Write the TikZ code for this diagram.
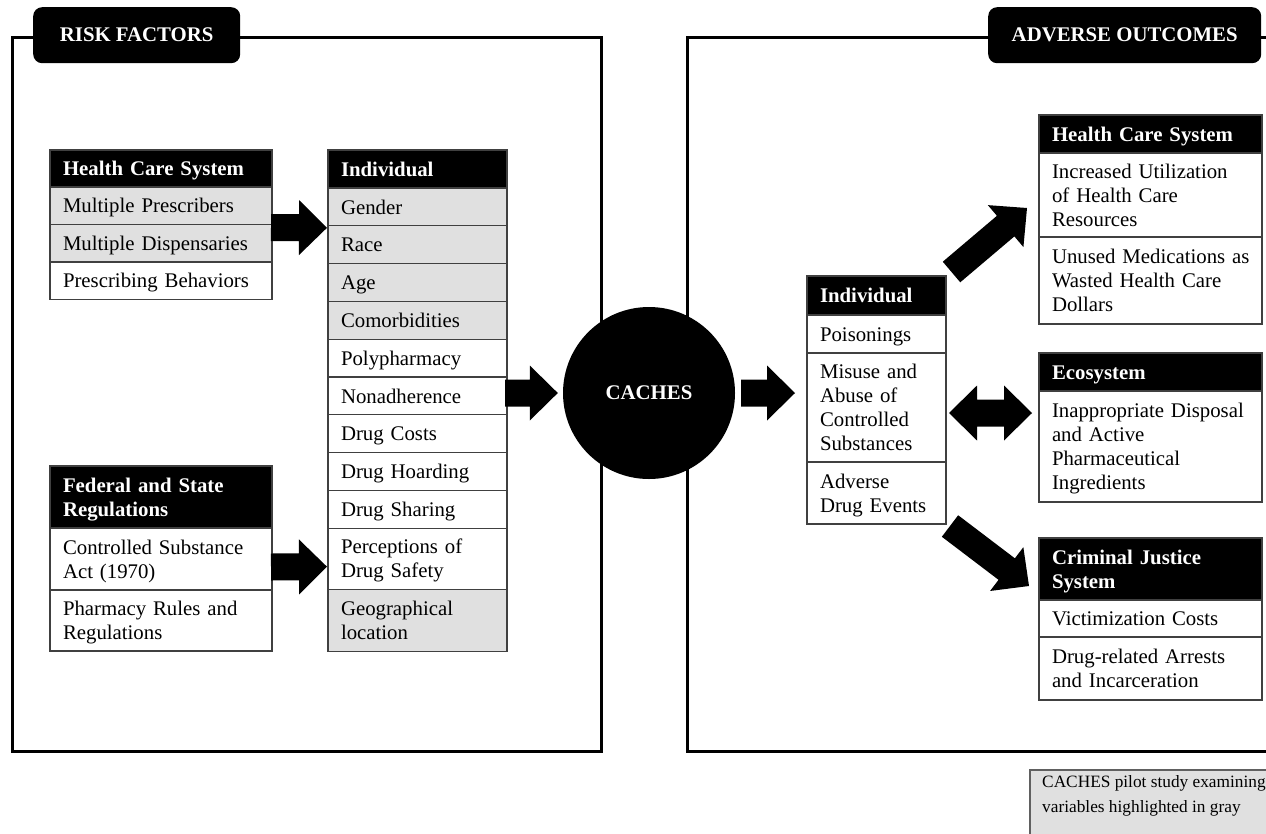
\documentclass[tikz,border=0pt]{standalone}
\usepackage{fontspec}
\setmainfont{Liberation Serif}
\usetikzlibrary{calc}
\definecolor{cellgray}{HTML}{E0E0E0}
\definecolor{linegray}{HTML}{404040}
\definecolor{legendline}{HTML}{606060}
\newcommand\cellstrut{\vrule width 0pt height 19.2pt depth 4.8pt}
\newcommand\blockarrow[2]{%
  \coordinate (bac) at ($(#2)!28pt!(#1)$);
  \fill[blockarr] ($(#1)!13.5pt!90:(#2)$) -- ($(bac)!13.5pt!90:(#2)$) -- ($(bac)!27.5pt!90:(#2)$) -- (#2) -- ($(bac)!27.5pt!-90:(#2)$) -- ($(bac)!13.5pt!-90:(#2)$) -- ($(#1)!13.5pt!-90:(#2)$) -- cycle;}
\newcommand\dblblockarrow[2]{%
  \coordinate (bda) at ($(#1)!28pt!(#2)$);
  \coordinate (bdb) at ($(#2)!28pt!(#1)$);
  \fill[blockarr] (#1) -- ($(bda)!27.5pt!90:(#2)$) -- ($(bda)!13.5pt!90:(#2)$) -- ($(bdb)!13.5pt!-90:(#1)$) -- ($(bdb)!27.5pt!-90:(#1)$) -- (#2) -- ($(bdb)!27.5pt!90:(#1)$) -- ($(bdb)!13.5pt!90:(#1)$) -- ($(bda)!13.5pt!-90:(#2)$) -- ($(bda)!27.5pt!-90:(#2)$) -- cycle;}
\begin{document}
\begin{tikzpicture}[x=1pt,y=-1pt,
  cell/.style={draw=linegray, line width=1.1pt, anchor=north west, inner xsep=13pt, inner ysep=0pt, outer sep=0pt, align=left, font=\fontsize{20.8}{24}\selectfont, execute at begin node=\cellstrut, execute at end node=\cellstrut},
  graycell/.style={cell, fill=cellgray},
  hdrcell/.style={cell, fill=black, text=white, font=\fontsize{20.8}{24}\selectfont\bfseries},
  rowh/.style={minimum height=#1},
  wleft/.style={minimum width=222pt, text width=196pt},
  wind/.style={minimum width=179pt, text width=153pt},
  wrind/.style={minimum width=139pt, text width=113pt},
  wright/.style={minimum width=223pt, text width=197pt},
  frame/.style={draw=black, line width=3pt},
  hdr/.style={fill=black, rounded corners=9pt, text=white, anchor=north west, inner sep=0pt, font=\fontsize{20.8}{24}\selectfont\bfseries},
  blockarr/.style={fill=black},
]
\useasboundingbox (0,0) rectangle (1266,833);
\clip (0,0) rectangle (1266,833);

% frames
\draw[frame] (12,37) rectangle (601,751);
\draw[frame] (1275,37) -- (687,37) -- (687,751) -- (1275,751);

% section headers
\node[hdr, minimum width=207pt, minimum height=56pt] (rf) at (33,7) {RISK FACTORS};
\node[hdr, minimum width=273pt, minimum height=56pt] (ao) at (988,7) {ADVERSE OUTCOMES};

% left: Health Care System
\node[hdrcell, wleft, rowh=37pt] (lhcs0) at (50,150) {\mbox{Health Care System}};
\node[graycell, wleft, rowh=37.5pt] (lhcs1) at (lhcs0.south west) {\mbox{Multiple Prescribers}};
\node[graycell, wleft, rowh=37.5pt] (lhcs2) at (lhcs1.south west) {\mbox{Multiple Dispensaries}};
\node[cell, wleft, rowh=37.5pt] (lhcs3) at (lhcs2.south west) {\mbox{Prescribing Behaviors}};

% left: Federal and State Regulations
\node[hdrcell, wleft, rowh=62pt] (fed0) at (50,466) {\mbox{Federal and State}\\Regulations};
\node[cell, wleft, rowh=62pt] (fed1) at (fed0.south west) {\mbox{Controlled Substance}\\Act (1970)};
\node[cell, wleft, rowh=61pt] (fed2) at (fed1.south west) {\mbox{Pharmacy Rules and}\\Regulations};

% left: Individual
\node[hdrcell, wind, rowh=38pt] (lind0) at (328,150) {Individual};
\node[graycell, wind, rowh=37.8pt] (lind1) at (lind0.south west) {Gender};
\node[graycell, wind, rowh=37.8pt] (lind2) at (lind1.south west) {Race};
\node[graycell, wind, rowh=37.8pt] (lind3) at (lind2.south west) {Age};
\node[graycell, wind, rowh=37.8pt] (lind4) at (lind3.south west) {Comorbidities};
\node[cell, wind, rowh=37.8pt] (lind5) at (lind4.south west) {Polypharmacy};
\node[cell, wind, rowh=37.8pt] (lind6) at (lind5.south west) {Nonadherence};
\node[cell, wind, rowh=37.8pt] (lind7) at (lind6.south west) {\mbox{Drug Costs}};
\node[cell, wind, rowh=37.8pt] (lind8) at (lind7.south west) {\mbox{Drug Hoarding}};
\node[cell, wind, rowh=37.8pt] (lind9) at (lind8.south west) {\mbox{Drug Sharing}};
\node[cell, wind, rowh=61pt] (lind10) at (lind9.south west) {\mbox{Perceptions of}\\\mbox{Drug Safety}};
\node[graycell, wind, rowh=62pt] (lind11) at (lind10.south west) {Geographical\\location};

% centre
\node[circle, fill=black, minimum size=172pt, inner sep=0pt, text=white, font=\fontsize{20.8}{24}\selectfont\bfseries] (caches) at (649,393) {CACHES};

% right: Individual
\node[hdrcell, wrind, rowh=39pt] (rind0) at (807,276) {Individual};
\node[cell, wrind, rowh=38pt] (rind1) at (rind0.south west) {Poisonings};
\node[cell, wrind, rowh=109pt] (rind2) at (rind1.south west) {\mbox{Misuse and}\\\mbox{Abuse of}\\Controlled\\Substances};
\node[cell, wrind, rowh=62pt] (rind3) at (rind2.south west) {Adverse\\\mbox{Drug Events}};

% right: Health Care System
\node[hdrcell, wright, rowh=38pt] (rhcs0) at (1039,115) {\mbox{Health Care System}};
\node[cell, wright, rowh=84pt] (rhcs1) at (rhcs0.south west) {\mbox{Increased Utilization}\\\mbox{of Health Care}\\Resources};
\node[cell, wright, rowh=87pt] (rhcs2) at (rhcs1.south west) {\mbox{Unused Medications as}\\\mbox{Wasted Health Care}\\Dollars};

% right: Ecosystem
\node[hdrcell, wright, rowh=38pt] (eco0) at (1039,353) {Ecosystem};
\node[cell, wright, rowh=111pt] (eco1) at (eco0.south west) {\mbox{Inappropriate Disposal}\\\mbox{and Active}\\Pharmaceutical\\Ingredients};

% right: Criminal Justice System
\node[hdrcell, wright, rowh=62pt] (cjs0) at (1039,538) {\mbox{Criminal Justice}\\System};
\node[cell, wright, rowh=37pt] (cjs1) at (cjs0.south west) {\mbox{Victimization Costs}};
\node[cell, wright, rowh=63pt] (cjs2) at (cjs1.south west) {\mbox{Drug-related Arrests}\\\mbox{and Incarceration}};

% arrow end points
\coordinate (a1s) at ($(lhcs2.north east)+(-1,3)$);
\coordinate (a1e) at ($(lind2.north west)+(-1,2)$);
\coordinate (a2s) at ($(fed1.east)+(-1,8)$);
\coordinate (a2e) at ($(lind10.west)+(-1,8)$);
\coordinate (a3s) at ($(lind6.east |- caches.center)+(-2,0)$);
\coordinate (a3e) at ($(caches.west)+(-5,0)$);
\coordinate (a4s) at ($(caches.east)+(6,0)$);
\coordinate (a4e) at ($(caches.east -| rind1.west)+(-12,0)$);
\coordinate (a5s) at ($(rind0.north east)+(5.5,-4)$);
\coordinate (a5e) at ($(rhcs1.west)+(-12,13)$);
\coordinate (a6s) at ($(rind2.east)+(3,5.5)$);
\coordinate (a6e) at ($(rind2.east -| eco1.west)+(-7,5.5)$);
\coordinate (a7s) at ($(rind3.south east)+(4,2)$);
\coordinate (a7e) at ($(cjs0.west)+(-10,17)$);

\blockarrow{a1s}{a1e}
\blockarrow{a2s}{a2e}
\blockarrow{a3s}{a3e}
\blockarrow{a4s}{a4e}
\blockarrow{a5s}{a5e}
\dblblockarrow{a6s}{a6e}
\blockarrow{a7s}{a7e}

% legend
\path[draw=legendline, fill=cellgray, line width=1.2pt] (1030,770) rectangle (1285,850);
\node[anchor=north west, inner sep=0pt, align=left, font=\fontsize{17.3}{25}\selectfont] (legtext) at (1042,775) {CACHES pilot study examining\\variables highlighted in gray};
\end{tikzpicture}
\end{document}
